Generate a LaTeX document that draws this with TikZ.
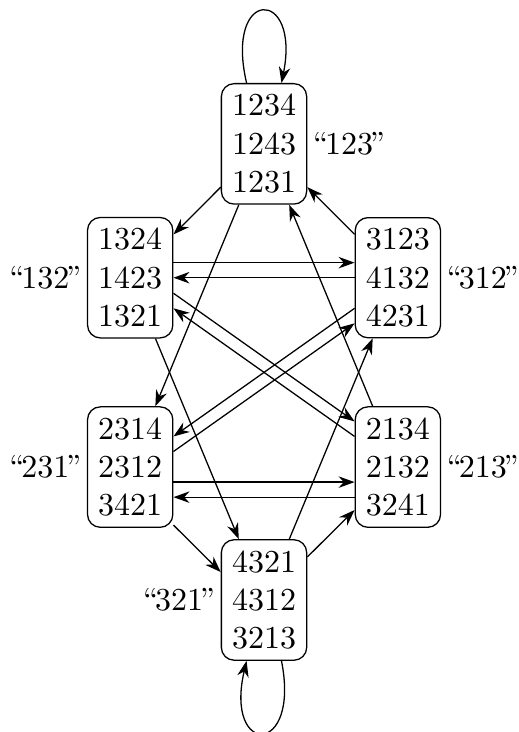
\documentclass[tikz,border=0pt]{standalone}
\usetikzlibrary{arrows.meta}

\newcommand{\cname}[1]{“\kern-1pt#1\kern-1pt”}

\begin{document}
\begin{tikzpicture}[
    perm/.style={
        rectangle,
        draw,
        rounded corners=4pt,
        align=center,
        inner sep=3.33pt
    },
    arr/.style={draw, -{Stealth[length=5pt, width=3.6pt]}},
    raised/.style={transform canvas={yshift=4.7pt}},
    lowered/.style={transform canvas={yshift=-4.7pt}},
    lowered2/.style={transform canvas={yshift=-9.4pt}},
    every label/.style={inner sep=1.6pt}
]
\useasboundingbox (0,0) rectangle (5.69,-8.04);

% Classes
\node[perm, label=right:{\cname{123}}] (n123) at (2.90,-1.58) {1234\\1243\\1231};
\node[perm, label=left:{\cname{132}}]  (n132) at (1.43,-3.05) {1324\\1423\\1321};
\node[perm, label=right:{\cname{312}}] (n312) at (4.37,-3.05) {3123\\4132\\4231};
\node[perm, label=left:{\cname{231}}]  (n231) at (1.43,-5.13) {2314\\2312\\3421};
\node[perm, label=right:{\cname{213}}] (n213) at (4.37,-5.13) {2134\\2132\\3241};
\node[perm, label=left:{\cname{321}}]  (n321) at (2.90,-6.59) {4321\\4312\\3213};

% Loops
\draw[arr] (n123.106) .. controls +(-7pt,30pt) and +(6pt,30pt) .. (n123.74);
\draw[arr] (n321.-74) .. controls +(6pt,-30pt) and +(-7pt,-30pt) .. (n321.-106);

% Out of 123
\draw[arr] (n123) -- (n132);
\draw[arr] (n123) -- (n231);
% Into 123
\draw[arr] (n312) -- (n123);
\draw[arr] (n213) -- (n123);

% Upper pair
\draw[arr, raised] (n132) -- (n312);
\draw[arr] (n312) -- (n132);
\draw[arr, raised] (n132) -- (n213);
\draw[arr] (n213) -- (n132);
\draw[arr, lowered] (n231) -- (n312);
\draw[arr] (n312) -- (n231);

% Lower pair
\draw[arr, lowered] (n231) -- (n213);
\draw[arr, lowered2] (n213) -- (n231);

% Towards 321
\draw[arr] (n132) -- (n321);
\draw[arr, lowered] (n231) -- (n321);
\draw[arr] (n321) -- (n312);
\draw[arr] (n321) -- (n213);

\end{tikzpicture}
\end{document}
